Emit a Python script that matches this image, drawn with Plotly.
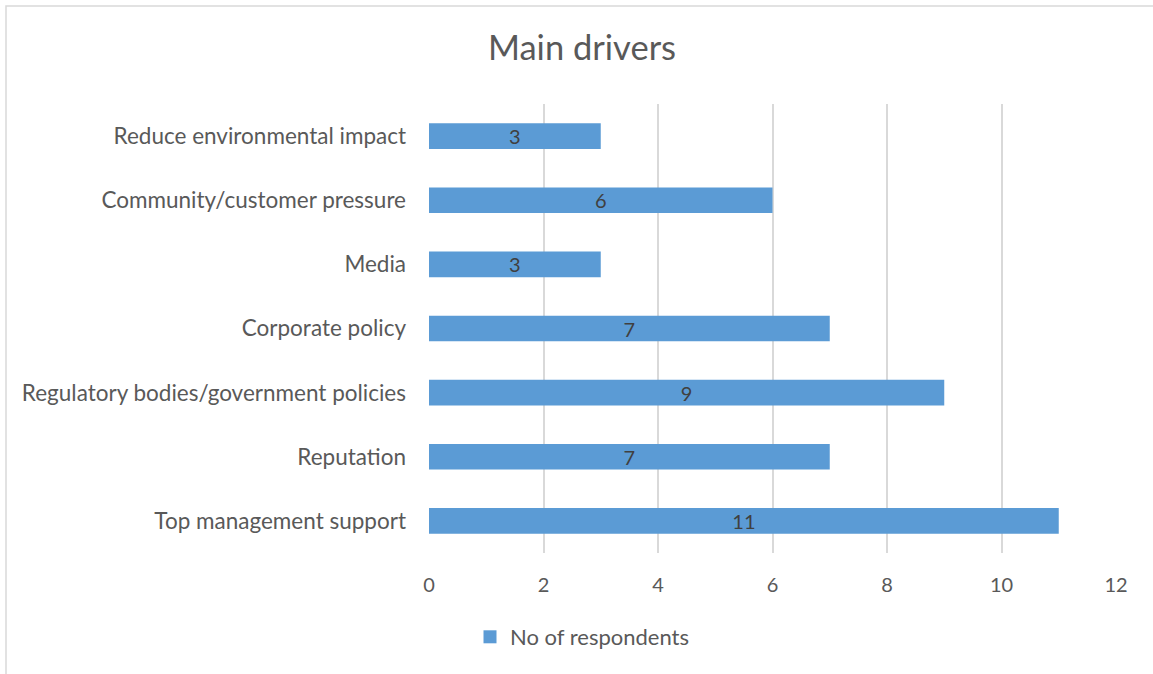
import plotly.graph_objects as go

categories = [
    "Top management support",
    "Reputation",
    "Regulatory bodies/government policies",
    "Corporate policy",
    "Media",
    "Community/customer pressure",
    "Reduce environmental impact",
]
values = [11, 7, 9, 7, 3, 6, 3]
x_ticks = [0, 2, 4, 6, 8, 10, 12]
series_name = "No of respondents"

W, H = 1153, 674
L, R, T, B = 429, 37, 104, 121
pw, ph = W - L - R, H - T - B

def px_x(p):
    return (p - L) / pw

def px_y(p):
    return (H - B - p) / ph

FONT = "Lato"
TXT = "#595959"
BAR = "#5b9bd5"

fig = go.Figure()
fig.add_trace(go.Bar(
    y=categories, x=values, orientation="h", name=series_name,
    marker=dict(color=BAR, line=dict(width=0)),
    text=values, textposition="inside", insidetextanchor="middle",
    textangle=0, constraintext="none", cliponaxis=False,
    textfont=dict(family=FONT, size=20, color="#404040"),
    showlegend=False, legendgroup="s",
))
# legend entry with a larger square swatch
fig.add_trace(go.Scatter(
    x=[None], y=[None], mode="markers", name=series_name,
    marker=dict(symbol="square", size=13, color=BAR),
    showlegend=True, legendgroup="s", hoverinfo="skip",
))

fig.update_layout(
    width=W, height=H,
    margin=dict(l=L, r=R, t=T, b=B),
    paper_bgcolor="white", plot_bgcolor="white",
    bargap=0.6,
    title=dict(text="Main drivers", x=582 / W, xref="container", xanchor="center",
               y=1 - 48 / H, yanchor="middle",
               font=dict(family=FONT, size=34.5, color=TXT)),
    xaxis=dict(range=[0, 12], tickvals=x_ticks, showgrid=True,
               gridcolor="#d9d9d9", gridwidth=1.5, zeroline=False,
               showline=False, ticks="", ticklabelstandoff=18,
               tickfont=dict(family=FONT, size=20, color=TXT), fixedrange=True),
    yaxis=dict(categoryorder="array", categoryarray=categories,
               showgrid=False, zeroline=False, showline=False, ticks="",
               ticklabelstandoff=22,
               tickfont=dict(family=FONT, size=22.5, color=TXT), fixedrange=True),
    legend=dict(orientation="h", x=px_x(582), xanchor="center",
                y=px_y(637), yanchor="middle", itemwidth=30,
                font=dict(family=FONT, size=22, color=TXT)),
    uniformtext=dict(mode=False),
    shapes=[dict(type="rect", xref="paper", yref="paper",
                 x0=px_x(6), x1=px_x(1165), y0=px_y(6), y1=px_y(690),
                 line=dict(color="#d9d9d9", width=1.5), layer="below")],
)

fig.write_html("out.html", config=dict(displayModeBar=False),
               post_script="document.body.style.margin='0px';document.body.style.padding='0px';")
